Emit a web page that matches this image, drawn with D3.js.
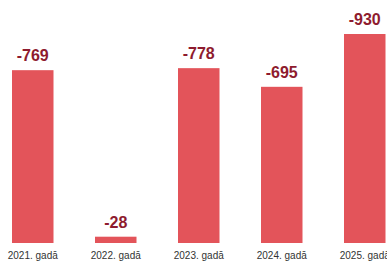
<!DOCTYPE html>
<html><head><meta charset="utf-8">
<script src="https://cdn.jsdelivr.net/npm/d3@7"></script>
<style>body{margin:0;background:#fff;}svg{display:block;}</style>
</head><body>
<svg id="c" width="387" height="261"></svg>
<script>
const categories = ["2021. gadā","2022. gadā","2023. gadā","2024. gadā","2025. gadā"];
const values = [-769, -28, -778, -695, -930];
const valueLabels = ["-769","-28","-778","-695","-930"];

const svg = d3.select("#c");
const baseline = 243;
const x = d3.scaleBand().domain(categories).range([-8.75, 406.25]).paddingInner(0.5).paddingOuter(0.25);
const y = d3.scaleLinear().domain([0, 930]).range([baseline, 34]);

svg.selectAll("rect.bar").data(values).join("rect")
  .attr("class","bar")
  .attr("x",(d,i)=>x(categories[i]))
  .attr("width",x.bandwidth())
  .attr("y",d=>y(Math.abs(d)))
  .attr("height",d=>baseline-y(Math.abs(d)))
  .attr("fill","#e3545a");

svg.selectAll("text.val").data(values).join("text")
  .attr("class","val")
  .attr("x",(d,i)=>x(categories[i])+x.bandwidth()/2)
  .attr("y",d=>y(Math.abs(d))-9)
  .attr("text-anchor","middle")
  .attr("font-family","Liberation Sans, Arial, sans-serif")
  .attr("font-weight","bold")
  .attr("font-size",16)
  .attr("fill","#8e1b2e")
  .text((d,i)=>valueLabels[i]);

const xAxis = d3.axisBottom(x).tickSize(0).tickPadding(0);
const ax = svg.append("g").attr("transform",`translate(0,${baseline})`).call(xAxis);
ax.select(".domain").remove();
ax.selectAll("text")
  .attr("y",16)
  .attr("dy",0)
  .attr("font-family","Liberation Sans, Arial, sans-serif")
  .attr("font-size",10)
  .attr("fill","#333");
</script>
</body></html>
